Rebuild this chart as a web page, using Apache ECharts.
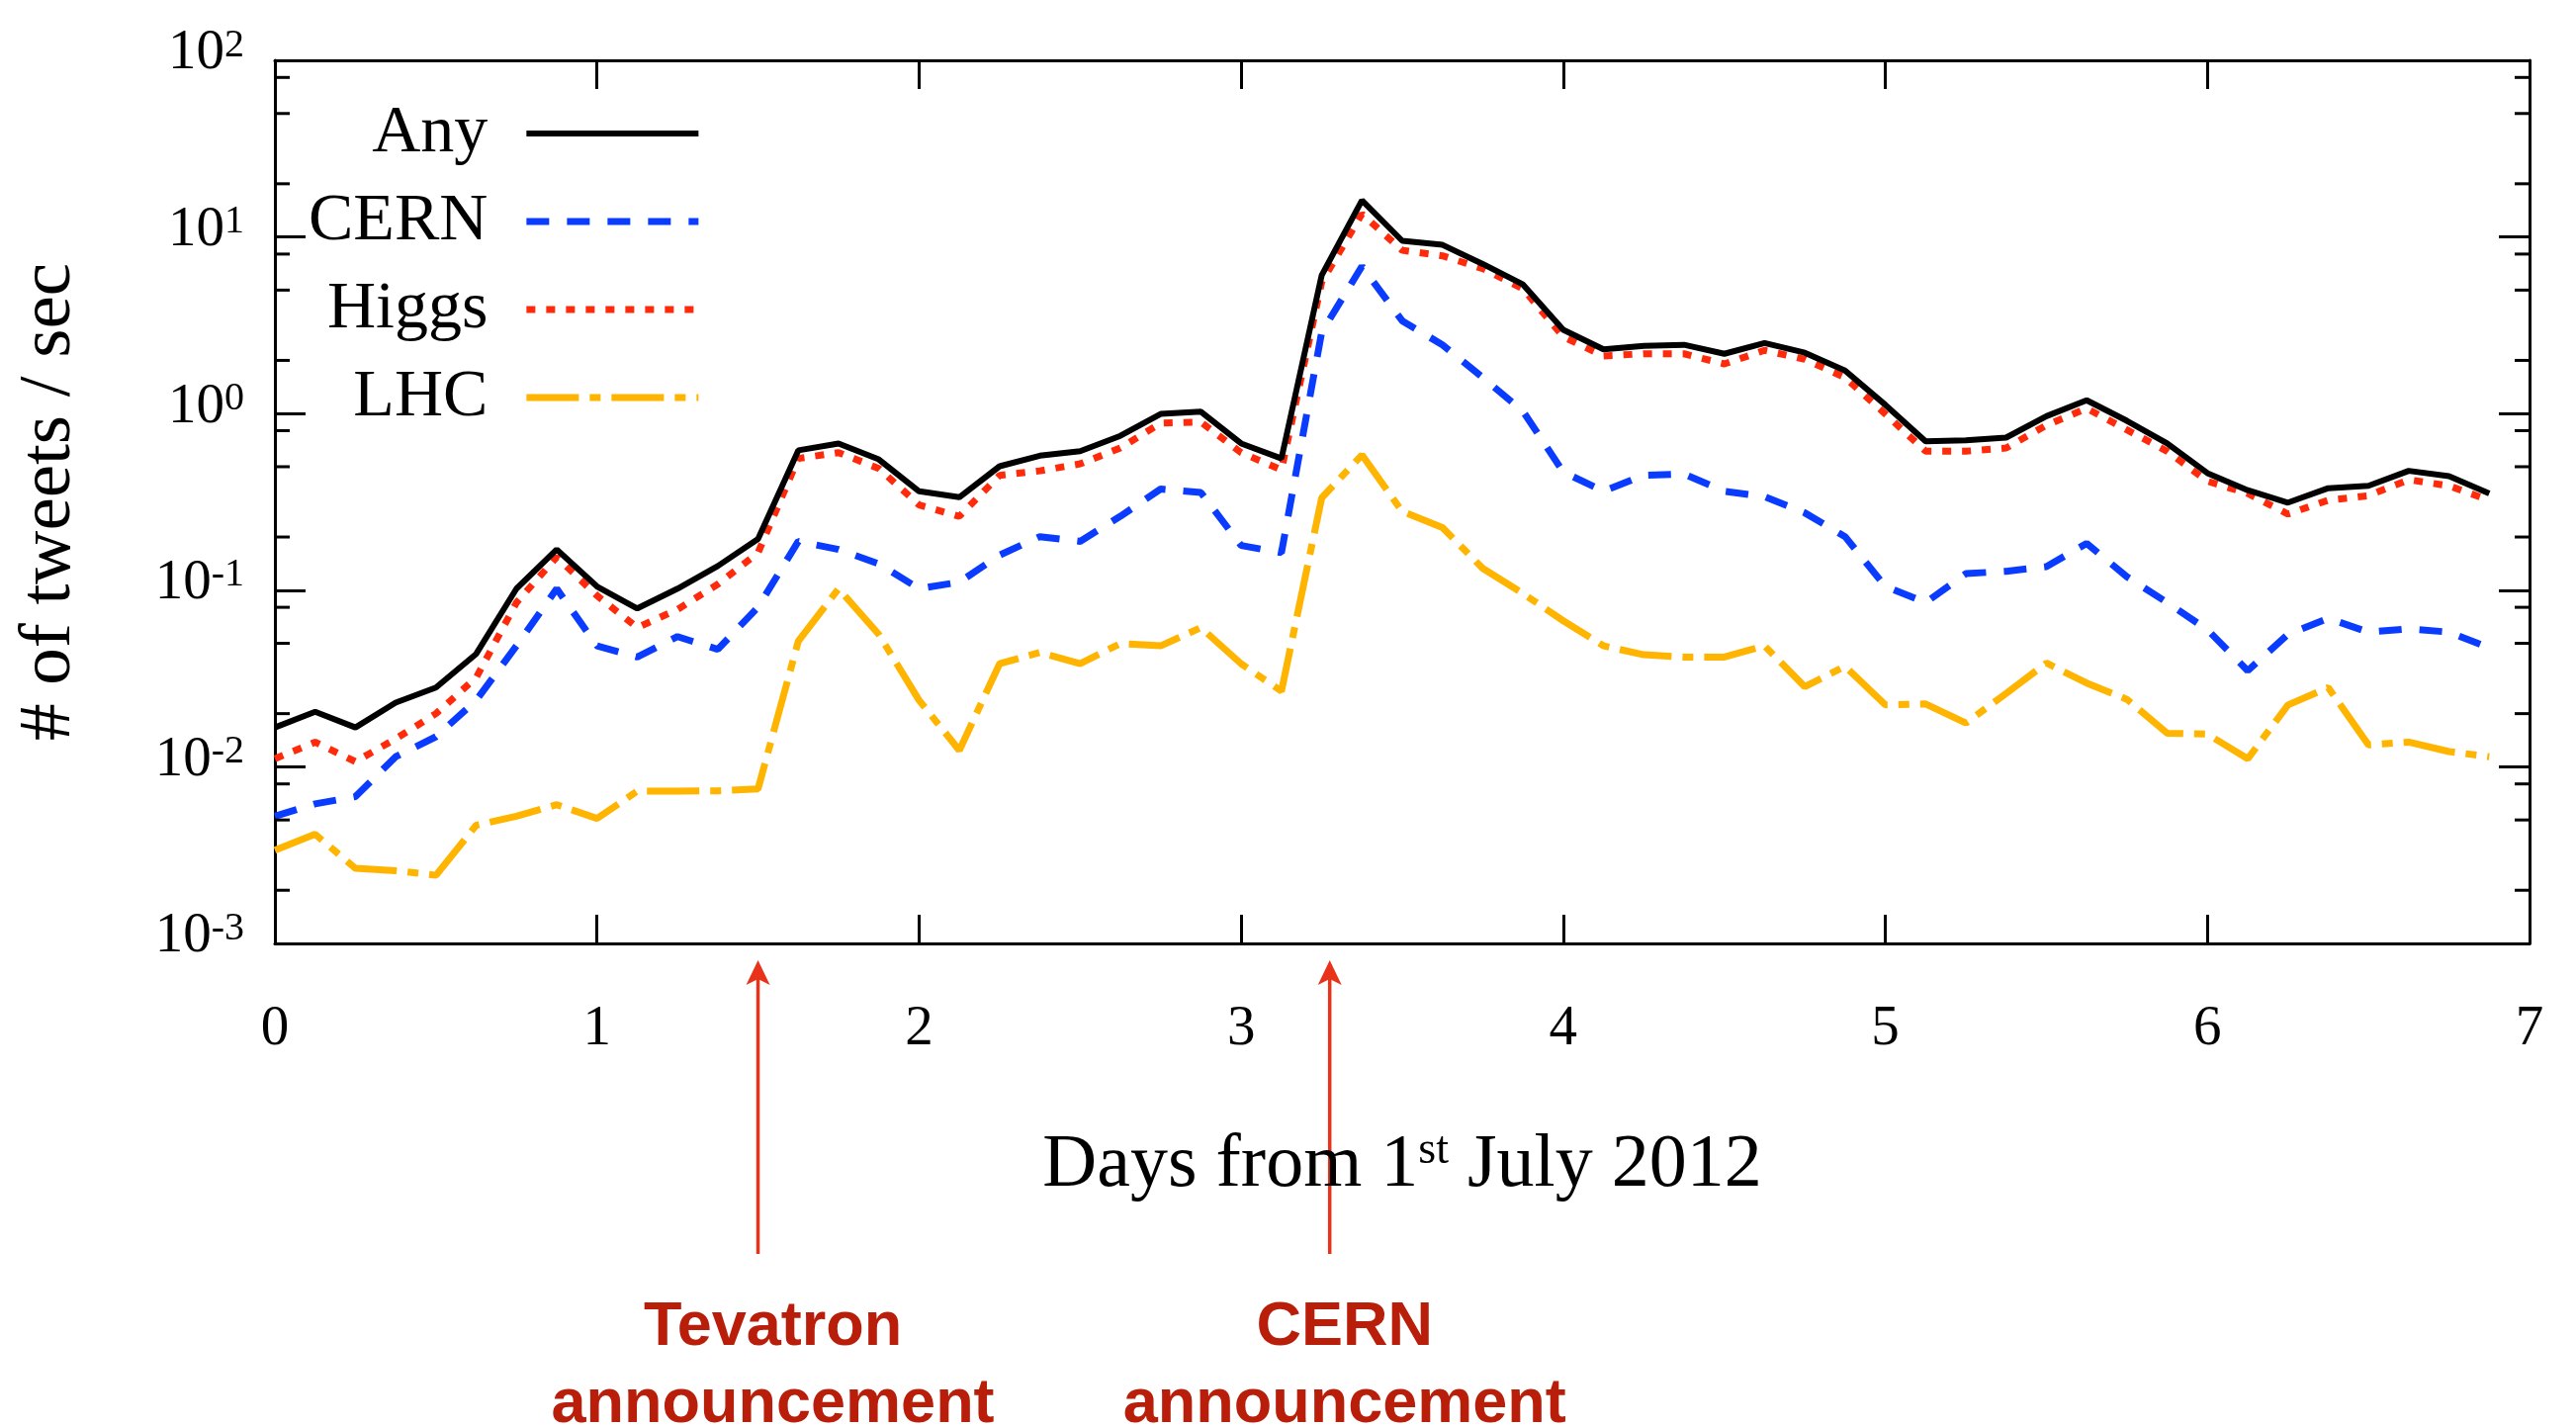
<!DOCTYPE html>
<html><head><meta charset="utf-8">
<script src="https://cdn.jsdelivr.net/npm/echarts@6/dist/echarts.min.js"></script>
<style>html,body{margin:0;padding:0;background:#fff}#c{width:2605px;height:1443px}</style>
</head><body><div id="c"></div>
<script>
const days = [0,0.125,0.25,0.375,0.5,0.625,0.75,0.875,1,1.125,1.25,1.375,1.5,1.625,1.75,1.875,2,2.125,2.25,2.375,2.5,2.625,2.75,2.875,3,3.125,3.25,3.375,3.5,3.625,3.75,3.875,4,4.125,4.25,4.375,4.5,4.625,4.75,4.875,5,5.125,5.25,5.375,5.5,5.625,5.75,5.875,6,6.125,6.25,6.375,6.5,6.625,6.75,6.875];
const anyTweets = [0.0167,0.0205,0.0167,0.0231,0.0281,0.0436,0.102,0.170,0.105,0.0788,0.102,0.137,0.195,0.619,0.677,0.550,0.363,0.336,0.503,0.577,0.612,0.748,0.995,1.025,0.677,0.557,6.06,16.1,9.51,9.02,7.03,5.38,2.98,2.31,2.42,2.45,2.18,2.51,2.21,1.75,1.12,0.697,0.706,0.731,0.966,1.19,0.910,0.677,0.460,0.368,0.313,0.378,0.390,0.474,0.442,0.353];
const cernTweets = [0.00525,0.00617,0.00678,0.0114,0.0148,0.0238,0.0484,0.102,0.0484,0.0418,0.0546,0.0462,0.0802,0.189,0.170,0.141,0.102,0.111,0.158,0.201,0.189,0.262,0.374,0.357,0.179,0.163,2.89,6.82,3.35,2.45,1.60,1.03,0.467,0.363,0.447,0.455,0.363,0.339,0.274,0.201,0.105,0.0851,0.124,0.128,0.136,0.184,0.119,0.0851,0.0597,0.0350,0.0562,0.0692,0.0579,0.0604,0.0579,0.0471];
const higgsTweets = [0.0111,0.0138,0.0107,0.0144,0.0200,0.0320,0.0851,0.154,0.0931,0.0614,0.0778,0.108,0.163,0.557,0.601,0.489,0.304,0.262,0.447,0.474,0.519,0.638,0.883,0.895,0.601,0.480,5.55,13.5,8.40,7.82,6.62,5.08,2.72,2.12,2.18,2.18,1.91,2.28,2.03,1.60,0.995,0.612,0.612,0.638,0.859,1.07,0.809,0.612,0.414,0.353,0.270,0.323,0.343,0.422,0.390,0.323];
const lhcTweets = [0.00337,0.00415,0.00266,0.00258,0.00243,0.00467,0.00525,0.00610,0.00510,0.00728,0.00728,0.00731,0.00750,0.0514,0.102,0.0562,0.0238,0.0124,0.0383,0.0444,0.0383,0.0499,0.0484,0.0614,0.0383,0.0268,0.333,0.583,0.279,0.226,0.133,0.0957,0.0671,0.0484,0.0431,0.0418,0.0418,0.0484,0.0284,0.0371,0.0224,0.0227,0.0177,0.0260,0.0387,0.0298,0.0241,0.0155,0.0153,0.0111,0.0224,0.0281,0.0133,0.0138,0.0122,0.0114];
const xTickLabels = ['0','1','2','3','4','5','6','7'];
const yTickExponents = ['-3','-2','-1','0','1','2'];
const yMinorTicks = [0.002,0.005,0.008,0.02,0.05,0.08,0.2,0.5,0.8,2,5,8,20,50,80];
const seriesNames = ['Any','CERN','Higgs','LHC'];
const events = [{day:1.5, lines:['Tevatron','announcement']},{day:3.275, lines:['CERN','announcement']}];

const serif = 'Liberation Serif';
const chart = echarts.init(document.getElementById('c'), null, {renderer:'canvas'});
const pair = arr => days.map((d,i)=>[d, arr[i]]);
const option = {
  animation:false,
  backgroundColor:'#fff',
  grid:{left:278, right:47, top:61, bottom:489, outerBoundsMode:'none', containLabel:false},
  legend:{
    data:seriesNames, orient:'vertical', left:307, top:96, align:'right',
    itemWidth:174, itemHeight:1, itemGap:21, selectedMode:false,
    lineStyle:{width:'inherit'},
    itemStyle:{opacity:0},
    textStyle:{fontFamily:serif, fontSize:68, color:'#000', padding:[0,34,0,0]}
  },
  xAxis:[{
    type:'value', min:0, max:7, interval:1, position:'bottom',
    axisLine:{show:true, onZero:false, lineStyle:{color:'#000', width:3}},
    axisTick:{show:true, inside:true, length:29, lineStyle:{color:'#000', width:3}},
    splitLine:{show:false},
    axisLabel:{margin:59, fontFamily:serif, fontSize:57, color:'#000', showMinLabel:true, showMaxLabel:true,
      formatter:v=>xTickLabels[Math.round(v)]},
    name:'{a|Days from 1}{s|st}{a| July 2012}', nameLocation:'middle', nameGap:187,
    nameTextStyle:{rich:{a:{fontFamily:serif, fontSize:76, color:'#000', lineHeight:76},
      s:{fontFamily:serif, fontSize:46, color:'#000', verticalAlign:'top', lineHeight:2}}}
  },{
    type:'value', min:0, max:7, interval:1, position:'top',
    axisLine:{show:true, onZero:false, lineStyle:{color:'#000', width:3}},
    axisTick:{show:true, inside:true, length:29, lineStyle:{color:'#000', width:3}},
    axisLabel:{show:false}, splitLine:{show:false}
  }],
  yAxis:[{
    type:'log', logBase:10, min:0.001, max:100, position:'left',
    axisLine:{show:true, onZero:false, lineStyle:{color:'#000', width:3}},
    axisTick:{show:true, inside:true, length:31, lineStyle:{color:'#000', width:3}},
    splitLine:{show:false}, minorTick:{show:false},
    axisLabel:{margin:31, padding:[0,0,13,0], showMinLabel:true, showMaxLabel:true,
      formatter:v=>'{m|10}{e|'+yTickExponents[Math.round(Math.log10(v))+3]+'}',
      rich:{m:{fontFamily:serif, fontSize:57, color:'#000', lineHeight:57},
            e:{fontFamily:serif, fontSize:40, color:'#000', verticalAlign:'top', lineHeight:10}}},
    name:'# of tweets / sec', nameLocation:'middle', nameGap:190, nameRotate:90,
    nameTextStyle:{fontFamily:serif, fontSize:75, color:'#000'}
  },{
    type:'log', logBase:10, min:0.001, max:100, position:'right',
    axisLine:{show:true, onZero:false, lineStyle:{color:'#000', width:3}},
    axisTick:{show:true, inside:true, length:31, lineStyle:{color:'#000', width:3}},
    axisLabel:{show:false}, splitLine:{show:false}
  }],
  series:[
    {name:'Any', type:'line', symbol:'none', data:pair(anyTweets), z:5,
      lineStyle:{color:'#000', width:6, type:'solid'}, itemStyle:{color:'#000'}},
    {name:'CERN', type:'line', symbol:'none', data:pair(cernTweets), z:3,
      lineStyle:{color:'#0a3cff', width:7, type:[23,18], cap:'butt'}, itemStyle:{color:'#0a3cff'}},
    {name:'Higgs', type:'line', symbol:'none', data:pair(higgsTweets), z:4,
      lineStyle:{color:'#ff2a0a', width:7, type:[9,11], cap:'butt'}, itemStyle:{color:'#ff2a0a'}},
    {name:'LHC', type:'line', symbol:'none', data:pair(lhcTweets), z:2,
      lineStyle:{color:'#ffb400', width:7, type:[53,11,11,11], cap:'butt'}, itemStyle:{color:'#ffb400'}},
    {name:'minorTicks', type:'custom', silent:true, clip:false, z:6,
      data:yMinorTicks.map(v=>[0,v]),
      renderItem:(params, api)=>{
        const p = api.coord([0, api.value(1)]);
        const cs = params.coordSys;
        return {type:'group', children:[
          {type:'line', shape:{x1:cs.x, y1:p[1], x2:cs.x+15, y2:p[1]}, style:{stroke:'#000', lineWidth:3}},
          {type:'line', shape:{x1:cs.x+cs.width, y1:p[1], x2:cs.x+cs.width-15, y2:p[1]}, style:{stroke:'#000', lineWidth:3}}
        ]};
      }}
  ]
};
chart.setOption(option);

const baseY = chart.convertToPixel({yAxisIndex:0}, 0.001);
const graphics = [];
events.forEach(ev=>{
  const x = chart.convertToPixel({xAxisIndex:0}, ev.day);
  graphics.push({type:'line', shape:{x1:x, y1:baseY+314, x2:x, y2:baseY+36}, style:{stroke:'#e8321a', lineWidth:3.5}});
  graphics.push({type:'polygon', shape:{points:[[x,baseY+17],[x-12,baseY+42],[x,baseY+36],[x+12,baseY+42]]}, style:{fill:'#e8321a'}});
  ev.lines.forEach((t,i)=>{
    graphics.push({type:'text', x:x+15, y:baseY+389+i*78, style:{text:t, fontFamily:'Liberation Sans', fontWeight:'bold', fontSize:63, fill:'#b81e0a', align:'center', verticalAlign:'middle'}});
  });
});
chart.setOption({graphic:graphics});
</script></body></html>
